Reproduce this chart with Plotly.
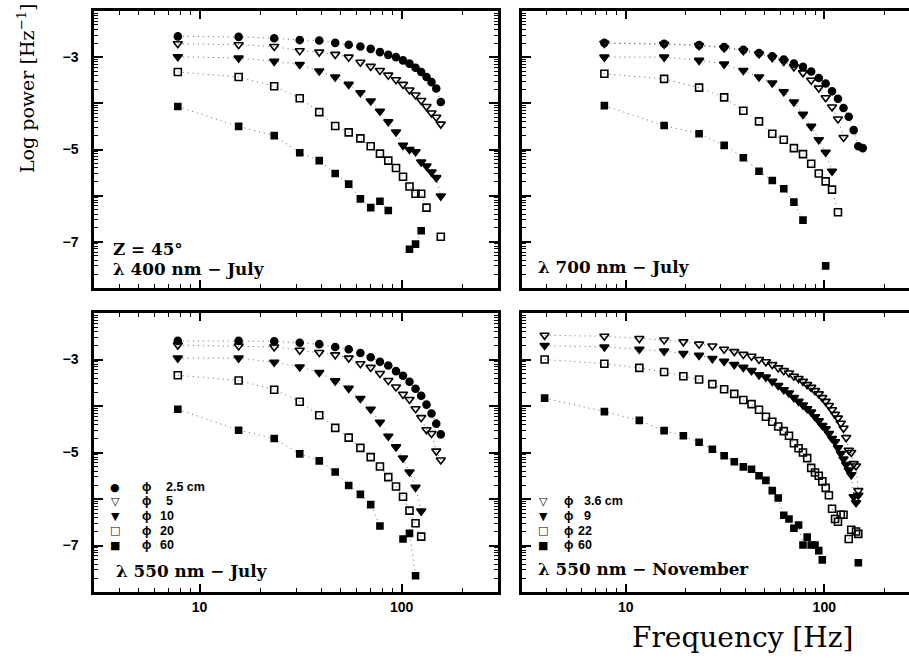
import math
import plotly.graph_objects as go

# ---------------- data (log10 power vs frequency) ----------------
freq_july = [7.8, 15.6, 23.4, 31.3, 39.1, 46.9, 54.7, 62.5, 70.3, 78.1,
             85.9, 93.8, 101.6, 109.4, 117.2, 125.0, 132.8, 140.6, 148.4, 156.3]
freq_nov = [3.9, 7.8, 11.7, 15.6, 19.5, 23.4, 27.3, 31.3, 35.2, 39.1,
            43.0, 46.9, 50.8, 54.7, 58.6, 62.5, 66.4, 70.3, 74.2, 78.1,
            82.0, 85.9, 89.8, 93.8, 97.7, 101.6, 105.5, 109.4, 113.3, 117.2,
            121.1, 125.0, 128.9, 132.8, 136.7, 140.6, 144.5, 148.4]

# 400 nm July
tl_d25 = [-2.55, -2.56, -2.59, -2.63, -2.64, -2.69, -2.73, -2.77, -2.82, -2.89,
          -2.95, -3.00, -3.07, -3.14, -3.23, -3.32, -3.43, -3.54, -3.68, -3.97]
tl_d5 = [-2.71, -2.73, -2.77, -2.86, -2.89, -2.94, -3.00, -3.11, -3.20, -3.29,
         -3.39, -3.49, -3.59, -3.71, -3.82, -3.94, -4.07, -4.21, -4.30, -4.45]
tl_d10 = [-2.99, -3.02, -3.09, -3.16, -3.30, -3.43, -3.59, -3.77, -3.95, -4.17,
          -4.40, -4.62, -4.91, -5.00, -5.05, -5.27, -5.36, -5.49, -5.61, -6.01]
tl_d20 = [-3.32, -3.43, -3.63, -3.89, -4.19, -4.49, -4.63, -4.76, -4.93, -5.09,
          -5.24, -5.40, -5.59, -5.80, -5.96, -5.96, -6.26, None, None, -6.89]
tl_d60 = [-4.07, -4.50, -4.70, -5.07, -5.24, -5.52, -5.75, -6.07, -6.26, -6.12,
          -6.32, None, None, -7.16, -7.05, -6.76, None, None, None, None]

# 700 nm July
tr_d25 = [-2.69, -2.71, -2.74, -2.78, -2.84, -2.91, -2.98, -3.05, -3.14, -3.21,
          -3.31, -3.45, -3.57, -3.74, -3.90, -4.10, -4.29, -4.58, -4.93, -4.97]
tr_d5 = [-2.70, -2.72, -2.75, -2.80, -2.86, -2.93, -3.01, -3.09, -3.21, -3.34,
         -3.50, -3.67, -3.88, -4.08, -4.34, -4.74, None, None, None, None]
tr_d10 = [-3.00, -3.00, -3.07, -3.15, -3.29, -3.43, -3.56, -3.75, -3.97, -4.24,
          -4.50, -4.79, -5.06, -5.47, None, None, None, None, None, None]
tr_d20 = [-3.36, -3.47, -3.66, -3.87, -4.16, -4.39, -4.66, -4.79, -4.97, -5.10,
          -5.31, -5.52, -5.69, -5.87, -6.36, None, None, None, None, None]
tr_d60 = [-4.05, -4.48, -4.66, -4.91, -5.18, -5.47, -5.67, -5.85, -6.14, -6.53,
          None, None, -7.52, None, None, None, None, None, None, None]

# 550 nm July
bl_d25 = [-2.60, -2.60, -2.61, -2.64, -2.67, -2.73, -2.78, -2.86, -2.95, -3.05,
          -3.13, -3.25, -3.35, -3.48, -3.63, -3.78, -3.97, -4.16, -4.38, -4.61]
bl_d5 = [-2.69, -2.71, -2.73, -2.80, -2.85, -2.90, -2.97, -3.09, -3.17, -3.30,
         -3.45, -3.59, -3.75, -3.86, -4.06, -4.25, -4.51, -4.59, -4.97, -5.16]
bl_d10 = [-2.97, -2.97, -3.06, -3.16, -3.28, -3.46, -3.62, -3.84, -4.07, -4.35,
          -4.65, -4.88, -5.12, -5.42, -5.75, -6.26, None, None, None, None]
bl_d20 = [-3.34, -3.45, -3.65, -3.91, -4.20, -4.47, -4.68, -4.90, -5.10, -5.30,
          -5.53, -5.73, -5.95, -6.25, -6.52, -6.81, None, None, None, None]
bl_d60 = [-4.07, -4.52, -4.70, -5.03, -5.18, -5.42, -5.71, -5.90, -6.12, -6.58,
          None, None, -6.86, -6.74, -7.65, None, None, None, None, None]

# 550 nm November
br_d36 = [-2.48, -2.50, -2.55, -2.58, -2.62, -2.67, -2.71, -2.78, -2.83, -2.89,
          -2.93, -3.00, -3.05, -3.11, -3.18, -3.24, -3.29, -3.36, -3.41, -3.47,
          -3.54, -3.60, -3.67, -3.74, -3.82, -3.90, -3.99, -4.08, -4.18, -4.26,
          -4.37, -4.48, -4.68, -4.95, -5.00, -5.24, -5.29, -5.82]
br_d9 = [-2.70, -2.73, -2.78, -2.82, -2.87, -2.91, -2.98, -3.04, -3.11, -3.17,
         -3.24, -3.33, -3.38, -3.47, -3.56, -3.65, -3.72, -3.82, -3.90, -3.98,
         -4.06, -4.13, -4.23, -4.32, -4.42, -4.49, -4.59, -4.70, -4.77, -4.90,
         -5.02, -5.14, -5.26, -5.38, -5.48, -5.95, -6.08, -5.92]
br_d22 = [-3.00, -3.09, -3.18, -3.27, -3.36, -3.43, -3.53, -3.64, -3.74, -3.87,
          -3.96, -4.08, -4.23, -4.34, -4.44, -4.54, -4.64, -4.80, -4.91, -5.00,
          -5.12, -5.33, -5.43, -5.50, -5.62, -5.76, -5.92, -6.21, -6.43, -6.49,
          -6.34, -6.34, None, -6.86, -6.66, None, -6.70, -6.75]
br_d60 = [-3.83, -4.12, -4.31, -4.53, -4.64, -4.78, -4.93, -5.07, -5.20, -5.31,
          -5.36, -5.50, -5.60, -5.82, -5.98, -6.35, -6.43, -6.63, -6.56, -6.99,
          -6.82, -6.99, -6.99, -7.11, -7.31, None, None, None, None, None,
          None, None, None, None, None, None, None, -7.37]

july_diam = ["2.5 cm", "5", "10", "20", "60"]
nov_diam = ["3.6 cm", "9", "22", "60"]
july_keys = ["\u25cf", "\u25bd", "\u25bc", "\u25a1", "\u25a0"]
nov_keys = ["\u25bd", "\u25bc", "\u25a1", "\u25a0"]
PHI = "\u03d5"

zenith_label = "Z = 45\u00b0"
panel_labels = ["\u03bb 400 nm \u2212 July", "\u03bb 700 nm \u2212 July",
                "\u03bb 550 nm \u2212 July", "\u03bb 550 nm \u2212 November"]

# ---------------- styles ----------------
SYM_JULY = ["circle", "triangle-down-open", "triangle-down", "square-open", "square"]
SZ_JULY = [7, 8, 8, 7, 6]
SYM_NOV = ["triangle-down-open", "triangle-down", "square-open", "square"]
SZ_NOV = [8, 8, 7, 6]

W, H = 909, 659
fig = go.Figure()


def add_series(xs, ys, sym, size, xa, ya, name):
    fig.add_trace(go.Scatter(x=xs, y=ys, mode="lines", xaxis=xa, yaxis=ya,
                             line=dict(color="#666", width=1, dash="1px,4px"),
                             connectgaps=False, showlegend=False, hoverinfo="skip"))
    fig.add_trace(go.Scatter(x=xs, y=ys, mode="markers", xaxis=xa, yaxis=ya,
                             name=name, showlegend=False,
                             marker=dict(symbol=sym, size=size, color="black",
                                         line=dict(color="black", width=1.6))))


for ys, sym, sz, nm in zip([tl_d25, tl_d5, tl_d10, tl_d20, tl_d60], SYM_JULY, SZ_JULY, july_diam):
    add_series(freq_july, ys, sym, sz, "x", "y", PHI + " " + nm)
for ys, sym, sz, nm in zip([tr_d25, tr_d5, tr_d10, tr_d20, tr_d60], SYM_JULY, SZ_JULY, july_diam):
    add_series(freq_july, ys, sym, sz, "x2", "y2", PHI + " " + nm)
for ys, sym, sz, nm in zip([bl_d25, bl_d5, bl_d10, bl_d20, bl_d60], SYM_JULY, SZ_JULY, july_diam):
    add_series(freq_july, ys, sym, sz, "x3", "y3", PHI + " " + nm)
for ys, sym, sz, nm in zip([br_d36, br_d9, br_d22, br_d60], SYM_NOV, SZ_NOV, nov_diam):
    add_series(freq_nov, ys, sym, sz, "x4", "y4", PHI + " " + nm)

# ---------------- axes ----------------
xminor = [m * d for d in (1, 10, 100) for m in range(2, 10) if 2 <= m * d <= 300]
ymajor = list(range(-8, -1))
ytext = ["" if v % 2 == 0 else "\u2212%d" % (-v) for v in ymajor]
yminor = [n + math.log10(k) for n in range(-8, -2) for k in range(2, 10)]

tickfont = dict(family="Liberation Sans, Arial, sans-serif", size=14, color="black", weight="bold")

left_dom = [94 / W, 498 / W]
right_dom = [522 / W, 1.0]
top_dom = [(H - 288) / H, (H - 11) / H]
bot_dom = [(H - 592) / H, (H - 313) / H]

LEFT_RANGE = [math.log10(3), math.log10(300)]
RIGHT_RANGE = [math.log10(3), math.log10(3) + (909 - 522) / 198.5]


def xaxis(dom, anchor, rng, labels):
    return dict(type="log", domain=dom, anchor=anchor, range=rng,
                showline=True, linecolor="black", linewidth=2.5, mirror="allticks",
                ticks="inside", ticklen=8, tickwidth=1.5, tickcolor="black",
                tickmode="array", tickvals=[10, 100], ticktext=["10", "100"],
                showticklabels=labels, tickfont=tickfont, showgrid=False, zeroline=False,
                minor=dict(ticks="inside", ticklen=4, tickwidth=1.3, tickcolor="black",
                           tickmode="array", tickvals=xminor, showgrid=False))


def yaxis(dom, anchor, labels, mirror):
    return dict(domain=dom, anchor=anchor, range=[-8, -2],
                showline=True, linecolor="black", linewidth=2.5, mirror=mirror,
                ticks="inside", ticklen=9, tickwidth=1.5, tickcolor="black",
                tickmode="array", tickvals=ymajor, ticktext=ytext, ticklabelstandoff=10,
                showticklabels=labels, tickfont=tickfont, showgrid=False, zeroline=False,
                minor=dict(ticks="inside", ticklen=4, tickwidth=1, tickcolor="black",
                           tickmode="array", tickvals=yminor, showgrid=False))


fig.update_layout(
    width=W, height=H, margin=dict(l=0, r=0, t=0, b=0),
    paper_bgcolor="white", plot_bgcolor="white", showlegend=False,
    xaxis=xaxis(left_dom, "y", LEFT_RANGE, False),
    yaxis=yaxis(top_dom, "x", True, "allticks"),
    xaxis2=xaxis(right_dom, "y2", RIGHT_RANGE, False),
    yaxis2=yaxis(top_dom, "x2", False, False),
    xaxis3=xaxis(left_dom, "y3", LEFT_RANGE, True),
    yaxis3=yaxis(bot_dom, "x3", True, "allticks"),
    xaxis4=xaxis(right_dom, "y4", RIGHT_RANGE, True),
    yaxis4=yaxis(bot_dom, "x4", False, False),
)


def pax(px):
    return px / W


def pay(py):
    return (H - py) / H


def ann(text, x, y, xanchor, font, **kw):
    fig.add_annotation(text=text, x=pax(x), y=pay(y), xref="paper", yref="paper",
                       xanchor=xanchor, yanchor="middle", showarrow=False, font=font, **kw)


# legends: key glyph, phi, diameter
key_font = dict(family="DejaVu Sans, sans-serif", size=11, color="black")
leg_font = dict(family="Liberation Sans, Arial, sans-serif", size=12.5, color="black", weight="bold")
ROW = 14.5


def legend_block(keys, diams, x_key, x_phi, x_num1, x_num2, y0):
    for i, (k, d) in enumerate(zip(keys, diams)):
        yy = y0 + i * ROW
        ann(k, x_key, yy, "center", key_font)
        ann(PHI, x_phi, yy, "left", leg_font)
        one_digit = len(d.split(".")[0].split(" ")[0]) == 1
        ann(d, x_num1 if one_digit else x_num2, yy, "left", leg_font)


legend_block(july_keys, july_diam, 115, 140, 164, 158, 487)
legend_block(nov_keys, nov_diam, 543, 562, 582, 576, 501.5)

# panel labels
lab_font = dict(family="DejaVu Serif, serif", size=16.8, color="black", weight="bold")
ann(zenith_label, 111, 249, "left", lab_font)
label_pos = [(111, 269), (536, 267), (114, 571), (536, 569)]
for txt, (lx, ly) in zip(panel_labels, label_pos):
    ann(txt, lx, ly, "left", lab_font)

# axis titles
ann("Log power [Hz<sup>\u22121</sup>]", 26, 88, "center",
    dict(family="DejaVu Serif, serif", size=19, color="black"), textangle=-90)
ann("Frequency [Hz]", 742, 637, "center",
    dict(family="DejaVu Serif, serif", size=28, color="black"))

fig.write_html("out.html")
